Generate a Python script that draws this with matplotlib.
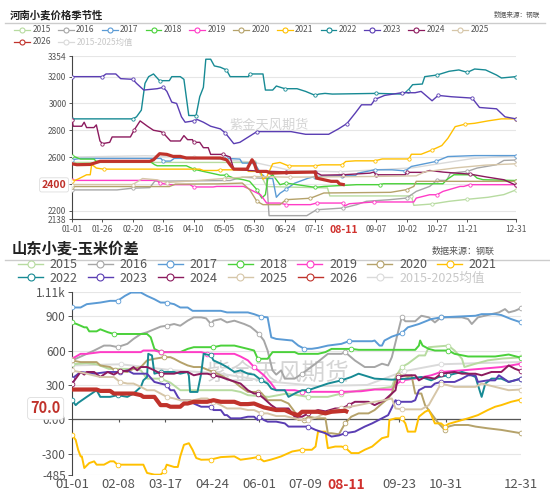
import matplotlib
matplotlib.use('Agg')
import matplotlib.pyplot as plt
from matplotlib.lines import Line2D
import numpy as np

plt.rcParams['font.family'] = ['Noto Sans CJK SC', 'DejaVu Sans']
plt.rcParams['axes.unicode_minus'] = False

names = ['2015', '2016', '2017', '2018', '2019', '2020', '2021', '2022',
         '2023', '2024', '2025', '2026', '2015-2025均值']
colors = ['#b7dba0', '#a6a6a6', '#5b9bd5', '#4ad13a', '#ff3cc7', '#b5a26a',
          '#ffc000', '#178a94', '#5a3db3', '#8c1a5e', '#d6c6a8', '#c0322b',
          '#dadada']

# ---------------- 河南小麦价格 (day of year, price) ----------------
t_d15 = [0, 150, 160, 210, 212, 279, 281, 296, 310, 325, 342, 355, 365]
t_v15 = [2560, 2560, 2380, 2370, 2310, 2310, 2240, 2250, 2270, 2285, 2300, 2320, 2355]
t_d16 = [0, 37, 50, 64, 68, 130, 140, 160, 162, 193, 201, 223, 234, 242, 261, 275, 283,
         294, 300, 308, 311, 325, 333, 349, 355, 365]
t_v16 = [2355, 2355, 2368, 2372, 2420, 2425, 2450, 2440, 2163, 2163, 2207, 2220, 2245,
         2270, 2282, 2294, 2344, 2381, 2426, 2426, 2480, 2493, 2518, 2543, 2575, 2578]
t_d17 = [0, 7, 73, 75, 81, 84, 127, 138, 140, 150, 155, 160, 165, 168, 171, 176, 183, 194,
         200, 222, 233, 235, 249, 263, 274, 279, 299, 309, 331, 365]
t_v17 = [2580, 2590, 2590, 2570, 2570, 2590, 2590, 2585, 2555, 2555, 2480, 2440, 2440,
         2300, 2330, 2360, 2405, 2442, 2455, 2462, 2462, 2480, 2505, 2505, 2497, 2530,
         2567, 2604, 2611, 2611]
t_d18 = [0, 7, 18, 20, 64, 68, 70, 94, 100, 108, 122, 127, 133, 141, 146, 152, 156, 159,
         161, 165, 171, 176, 200, 207, 234, 253, 256, 305, 308, 314, 330, 333, 338, 365]
t_v18 = [2610, 2585, 2585, 2568, 2568, 2543, 2535, 2535, 2510, 2493, 2465, 2465, 2443,
         2431, 2419, 2357, 2294, 2320, 2443, 2468, 2394, 2406, 2374, 2381, 2394, 2394,
         2401, 2401, 2431, 2468, 2468, 2443, 2431, 2425]
t_d19 = [0, 70, 72, 80, 97, 100, 116, 119, 141, 144, 155, 160, 171, 176, 196, 201, 223,
         224, 228, 248, 281, 283, 294, 300, 305, 319, 322, 327, 365]
t_v19 = [2426, 2426, 2406, 2394, 2394, 2377, 2377, 2381, 2381, 2369, 2319, 2257, 2257,
         2245, 2245, 2257, 2257, 2235, 2252, 2265, 2265, 2294, 2319, 2319, 2344, 2381,
         2381, 2394, 2394]
t_d20 = [0, 80, 85, 120, 140, 146, 152, 157, 171, 176, 196, 207, 262, 275, 281, 283, 365]
t_v20 = [2380, 2380, 2398, 2400, 2406, 2357, 2270, 2245, 2245, 2282, 2293, 2332, 2337,
         2357, 2381, 2419, 2419]
t_d21 = [0, 5, 12, 15, 16, 17, 20, 26, 105, 108, 119, 122, 144, 145, 155, 157, 160, 165,
         171, 178, 200, 205, 222, 225, 233, 249, 255, 277, 279, 287, 296, 304, 309, 315,
         323, 331, 342, 353, 365]
t_v21 = [2419, 2436, 2468, 2468, 2535, 2540, 2518, 2510, 2510, 2500, 2500, 2505, 2505,
         2493, 2493, 2436, 2450, 2550, 2560, 2534, 2534, 2542, 2542, 2567, 2572, 2572,
         2586, 2586, 2621, 2621, 2653, 2686, 2740, 2827, 2845, 2852, 2870, 2885, 2885]
t_d22 = [0, 50, 53, 57, 60, 63, 67, 72, 80, 82, 89, 92, 96, 102, 105, 108, 110, 114, 117,
         122, 127, 130, 145, 146, 157, 159, 165, 168, 175, 185, 192, 200, 203, 208, 214,
         250, 272, 276, 280, 288, 290, 300, 310, 318, 325, 331, 340, 349, 353, 365]
t_v22 = [2885, 2885, 2900, 2950, 3150, 3200, 3220, 3170, 3170, 3200, 3200, 3180, 2910,
         2910, 3050, 3120, 3330, 3330, 3280, 3270, 3250, 3200, 3200, 3220, 3220, 3100,
         3100, 3130, 3110, 3110, 3090, 3060, 3070, 3075, 3070, 3075, 3070, 3095, 3140,
         3145, 3200, 3212, 3240, 3250, 3232, 3257, 3250, 3212, 3190, 3200]
t_d23 = [0, 25, 28, 36, 40, 50, 53, 59, 70, 75, 78, 82, 86, 90, 93, 100, 103, 108, 114,
         122, 126, 133, 138, 145, 152, 180, 192, 211, 219, 226, 233, 238, 246, 249, 257,
         271, 282, 287, 296, 301, 312, 329, 335, 349, 356, 365]
t_v23 = [3200, 3200, 3220, 3220, 3185, 3180, 3150, 3100, 3110, 3120, 3090, 3010, 3000,
         2900, 2860, 2870, 2880, 2860, 2830, 2810, 2780, 2700, 2710, 2750, 2790, 2790,
         2770, 2770, 2810, 2850, 2930, 2990, 2990, 3030, 3060, 3080, 3080, 3090, 3020,
         3060, 3050, 3040, 2970, 2960, 2900, 2885]
t_d24 = [0, 1, 8, 10, 12, 18, 20, 23, 25, 31, 33, 48, 51, 56, 62, 67, 73, 75, 81, 89, 92,
         95, 99, 100, 105, 108, 112, 114, 124, 130, 133, 145, 155, 176, 200, 205, 223,
         245, 248, 250, 274, 275, 289, 294, 305, 316, 327, 341, 355, 365]
t_v24 = [2880, 2830, 2830, 2860, 2820, 2820, 2840, 2720, 2700, 2710, 2750, 2750, 2800,
         2870, 2830, 2800, 2790, 2780, 2720, 2720, 2760, 2730, 2730, 2710, 2710, 2670,
         2670, 2620, 2620, 2600, 2510, 2500, 2495, 2490, 2488, 2465, 2468, 2480, 2488,
         2468, 2468, 2486, 2486, 2500, 2488, 2480, 2473, 2451, 2431, 2390]
t_d25 = [0, 50, 58, 70, 78, 95, 125, 150, 179, 245, 283, 290, 316, 340, 365]
t_v25 = [2395, 2395, 2440, 2430, 2410, 2420, 2440, 2455, 2450, 2455, 2460, 2490, 2520,
         2540, 2550]
t_d26 = [0, 4, 15, 23, 64, 67, 72, 78, 83, 89, 94, 122, 127, 130, 133, 144, 145, 148, 150,
         152, 160, 163, 179, 200, 201, 207, 213, 218, 220, 223]
t_v26 = [2550, 2543, 2545, 2568, 2568, 2580, 2625, 2620, 2605, 2605, 2593, 2593, 2580,
         2543, 2510, 2510, 2530, 2580, 2550, 2493, 2493, 2480, 2485, 2488, 2443, 2431,
         2419, 2419, 2400, 2395]
t_davg = [0, 60, 100, 150, 180, 220, 280, 330, 365]
t_vavg = [2600, 2610, 2600, 2560, 2500, 2490, 2520, 2590, 2610]

# ---------------- 山东小麦-玉米价差 ----------------
b_d15 = [0, 12, 20, 30, 50, 56, 61, 72, 80, 88, 130, 137, 143, 160, 175, 192, 208, 219,
         235, 250, 260, 263, 268, 273, 282, 287, 290, 306, 311, 317, 319, 328, 338, 350, 365]
b_v15 = [480, 490, 480, 440, 440, 427, 355, 355, 320, 254, 254, 239, 211, 196, 225, 196,
         196, 225, 254, 268, 283, 369, 456, 485, 557, 557, 629, 643, 600, 528, 456, 485,
         514, 530, 540]
b_d16 = [0, 18, 26, 31, 37, 45, 50, 56, 61, 72, 77, 83, 88, 94, 99, 105, 109, 113, 115,
         121, 126, 132, 140, 145, 149, 152, 156, 159, 163, 166, 170, 173, 181, 187, 198,
         208, 219, 222, 230, 238, 246, 252, 257, 260, 268, 271, 279, 284, 290, 295, 300,
         317, 322, 325, 330, 341, 347, 352, 355, 360, 365]
b_v16 = [513, 600, 643, 643, 630, 658, 701, 744, 759, 808, 816, 831, 816, 860, 889, 889,
         880, 831, 860, 874, 845, 860, 831, 808, 773, 744, 687, 600, 427, 390, 427, 355,
         355, 398, 485, 571, 571, 586, 513, 456, 456, 485, 470, 542, 889, 855, 855, 903,
         889, 845, 889, 889, 874, 831, 889, 917, 932, 961, 932, 946, 969]
b_d17 = [0, 7, 12, 23, 31, 37, 39, 43, 48, 56, 61, 67, 72, 77, 83, 88, 94, 98, 121, 126,
         143, 148, 154, 159, 162, 166, 179, 184, 189, 195, 200, 208, 219, 225, 244, 246,
         250, 252, 254, 260, 268, 273, 282, 292, 300, 328, 333, 344, 349, 357, 365]
b_v17 = [975, 975, 1004, 1018, 1033, 1033, 1047, 1076, 1105, 1105, 1076, 1047, 1018, 1018,
         1004, 975, 975, 946, 946, 932, 932, 917, 894, 889, 715, 701, 687, 643, 615, 615,
         623, 643, 658, 681, 681, 687, 643, 643, 687, 721, 750, 802, 831, 874, 889, 903,
         917, 917, 909, 874, 845]
b_d18 = [0, 4, 10, 12, 14, 20, 23, 29, 34, 61, 64, 67, 72, 88, 94, 99, 115, 121, 132, 143,
         148, 151, 154, 159, 163, 181, 184, 200, 206, 211, 227, 233, 279, 282, 283, 285,
         290, 295, 306, 311, 322, 344, 355, 365]
b_v18 = [845, 830, 802, 802, 767, 767, 785, 760, 744, 744, 715, 614, 586, 586, 614, 629,
         629, 643, 643, 614, 600, 528, 528, 528, 586, 586, 571, 571, 586, 614, 614, 606,
         606, 643, 687, 643, 614, 600, 600, 571, 548, 548, 565, 537]
b_d19 = [0, 7, 12, 23, 56, 58, 67, 72, 105, 110, 132, 137, 143, 148, 156, 162, 166, 181,
         187, 219, 235, 246, 260, 263, 268, 279, 292, 300, 317, 333, 349, 365]
b_v19 = [528, 571, 571, 586, 586, 600, 600, 586, 586, 571, 571, 548, 514, 456, 384, 312,
         254, 254, 240, 240, 245, 260, 260, 300, 340, 355, 384, 413, 427, 441, 456, 485]
b_d20 = [0, 7, 20, 23, 31, 35, 45, 50, 56, 61, 67, 75, 80, 83, 88, 94, 99, 105, 110, 115,
         121, 126, 132, 137, 143, 151, 154, 159, 170, 176, 181, 184, 189, 192, 200, 206,
         208, 211, 217, 222, 227, 233, 241, 246, 252, 257, 260, 263, 265, 268, 273, 276,
         279, 284, 287, 292, 298, 303, 306, 311, 322, 328, 338, 349, 365]
b_v20 = [513, 499, 499, 470, 456, 427, 413, 441, 456, 514, 528, 542, 542, 528, 499, 470,
         456, 456, 433, 413, 384, 355, 326, 283, 239, 239, 230, 167, 167, 138, 66, -6, -6,
         23, 9, 9, -121, -121, -130, -35, 23, 52, 52, 81, 138, 182, 225, 340, 384, 384,
         370, 384, 225, 225, 124, 52, -35, -92, -63, -49, -49, -63, -78, -92, -121]
b_d21 = [0, 3, 5, 7, 8, 10, 14, 18, 20, 26, 31, 34, 37, 58, 61, 67, 72, 75, 77, 83, 86, 88,
         91, 95, 98, 101, 105, 113, 121, 132, 137, 145, 151, 156, 162, 166, 170, 179, 187,
         195, 198, 200, 206, 208, 214, 219, 222, 227, 233, 238, 244, 252, 257, 258, 263,
         268, 271, 273, 279, 282, 287, 290, 292, 295, 300, 303, 306, 317, 322, 330, 338,
         344, 349, 357, 365]
b_v21 = [-135, -179, -265, -323, -323, -424, -381, -366, -395, -395, -366, -366, -395,
         -395, -467, -482, -482, -453, -395, -415, -415, -323, -222, -208, -265, -337,
         -352, -350, -329, -323, -352, -340, -329, -366, -350, -337, -323, -280, -265,
         -265, -237, -107, -107, -251, -237, -237, -245, -294, -294, -265, -237, -164,
         -150, -6, 9, 9, -35, -107, -107, 23, 66, 81, 40, -35, -35, -63, -40, -6, 9, 37,
         81, 110, 124, 153, 173]
b_d22 = [0, 3, 5, 12, 16, 20, 23, 31, 37, 45, 50, 56, 58, 61, 62, 65, 67, 72, 83, 88, 94,
         95, 96, 102, 105, 107, 113, 115, 121, 126, 132, 137, 143, 148, 154, 159, 162, 166,
         173, 176, 181, 187, 192, 200, 208, 219, 227, 233, 246, 260, 273, 284, 292, 298,
         306, 311, 317, 322, 328, 333, 336, 341, 349, 355, 365]
b_v22 = [167, 124, 144, 196, 225, 254, 196, 196, 211, 196, 225, 283, 340, 369, 571, 557,
         398, 413, 413, 398, 413, 380, 239, 239, 398, 571, 557, 514, 485, 456, 413, 427,
         398, 390, 340, 312, 268, 254, 254, 196, 225, 254, 254, 283, 312, 340, 369, 398,
         355, 346, 355, 369, 340, 369, 384, 398, 413, 398, 369, 196, 312, 355, 355, 326, 355]
b_d23 = [0, 7, 18, 29, 39, 45, 50, 61, 67, 72, 77, 80, 83, 86, 88, 96, 99, 105, 113, 115,
         121, 124, 126, 129, 137, 143, 148, 151, 152, 156, 159, 166, 173, 176, 192, 198,
         206, 211, 217, 222, 230, 238, 244, 252, 257, 263, 265, 276, 279, 282, 287, 292,
         295, 300, 311, 317, 322, 328, 330, 338, 344, 347, 355, 360, 365]
b_v23 = [355, 413, 398, 413, 413, 427, 398, 398, 326, 312, 300, 254, 254, 196, 167, 167,
         138, 110, 110, 81, 81, 37, 37, 9, 9, 23, 23, -6, 23, -6, -20, -20, -35, -63, -63,
         -92, -121, -150, -140, -121, -107, -63, -35, 9, 37, 167, 153, 153, 167, 254, 283,
         283, 312, 326, 326, 355, 384, 384, 326, 340, 340, 384, 326, 340, 355]
b_d24 = [0, 4, 7, 10, 12, 18, 23, 29, 34, 39, 45, 50, 53, 56, 61, 67, 72, 83, 88, 94, 99,
         105, 110, 115, 121, 129, 137, 143, 148, 151, 156, 162, 166, 176, 181, 187, 192,
         200, 206, 214, 219, 225, 230, 241, 246, 254, 263, 265, 271, 279, 282, 287, 295,
         300, 311, 317, 328, 333, 341, 349, 355, 360, 365]
b_v24 = [312, 369, 413, 390, 413, 413, 369, 413, 390, 421, 421, 456, 427, 456, 456, 427,
         398, 398, 413, 413, 384, 398, 398, 384, 369, 340, 312, 254, 225, 225, 182, 124, 95,
         95, 23, 23, 52, 81, 70, 95, 95, 124, 153, 153, 124, 167, 254, 369, 384, 384, 340,
         369, 355, 398, 413, 398, 398, 384, 413, 413, 470, 441, 421]
b_d25 = [0, 12, 23, 34, 39, 45, 50, 56, 61, 67, 72, 77, 83, 88, 99, 105, 110, 115, 121,
         126, 137, 143, 148, 154, 159, 166, 173, 181, 187, 192, 200, 208, 219, 233, 246,
         254, 260, 263, 268, 284, 290, 300, 311, 328, 333, 344, 355, 365]
b_v25 = [427, 398, 369, 369, 326, 312, 312, 283, 254, 254, 225, 196, 182, 167, 167, 182,
         182, 153, 124, 95, 95, 81, 81, 52, 52, 29, 29, 9, -6, -6, 23, 66, 95, 124, 153,
         167, 182, 95, 87, 87, 124, 312, 283, 283, 312, 283, 254, 260]
b_d26 = [0, 20, 23, 31, 34, 50, 56, 58, 67, 69, 72, 77, 80, 88, 91, 94, 99, 110, 115, 121,
         132, 137, 143, 148, 156, 166, 173, 179, 184, 187, 200, 206, 211, 222, 223]
b_v26 = [260, 260, 248, 248, 225, 225, 211, 196, 196, 167, 124, 124, 110, 110, 138, 138,
         153, 153, 167, 153, 153, 133, 133, 138, 104, 81, 81, 52, 37, 66, 66, 52, 66, 75, 70]
b_davg = [0, 40, 80, 120, 160, 200, 240, 270, 300, 330, 365]
b_vavg = [470, 480, 430, 400, 330, 290, 300, 420, 480, 490, 500]

top_series = [(t_d15, t_v15), (t_d16, t_v16), (t_d17, t_v17), (t_d18, t_v18),
              (t_d19, t_v19), (t_d20, t_v20), (t_d21, t_v21), (t_d22, t_v22),
              (t_d23, t_v23), (t_d24, t_v24), (t_d25, t_v25), (t_d26, t_v26),
              (t_davg, t_vavg)]
bot_series = [(b_d15, b_v15), (b_d16, b_v16), (b_d17, b_v17), (b_d18, b_v18),
              (b_d19, b_v19), (b_d20, b_v20), (b_d21, b_v21), (b_d22, b_v22),
              (b_d23, b_v23), (b_d24, b_v24), (b_d25, b_v25), (b_d26, b_v26),
              (b_davg, b_vavg)]

t_xt = [0, 25, 50, 75, 100, 125, 150, 175, 200, 223, 250, 275, 300, 325, 365]
t_xl = ['01-01', '01-26', '02-20', '03-16', '04-10', '05-05', '05-30', '06-24',
        '07-19', '08-11', '09-07', '10-02', '10-27', '11-21', '12-31']
t_yt = [2138, 2200, 2400, 2600, 2800, 3000, 3200, 3354]
b_xt = [0, 38, 76, 114, 152, 190, 223, 266, 304, 365]
b_xl = ['01-01', '02-08', '03-17', '04-24', '06-01', '07-09', '08-11', '09-23',
        '10-31', '12-31']
b_yt = [-485, -300, 0, 300, 600, 900, 1110]
b_yl = ['-485', '-300', '0.00', '300', '600', '900', '1.11k']

W, H = 550, 494
fig = plt.figure(figsize=(W / 100, H / 100), dpi=100)
ax1 = fig.add_axes([72 / W, 1 - 219 / H, 444 / W, 163 / H])
ax2 = fig.add_axes([72 / W, 1 - 475 / H, 449 / W, 183 / H])


def near_idx(days, marks):
    days = np.asarray(days)
    out = []
    for m in marks:
        k = int(np.argmin(np.abs(days - m)))
        if abs(days[k] - m) <= 4:
            out.append(k)
    return sorted(set(out))


def draw(ax, series, marks, lw, lw_hi, ms):
    order = [12] + list(range(11)) + [11]
    for i in order:
        d, v = series[i]
        if i == 11:
            ax.plot(d, v, color=colors[i], lw=lw_hi, zorder=5, solid_joinstyle='round')
        else:
            ax.plot(d, v, color=colors[i], lw=lw, zorder=3 if i < 12 else 2,
                    marker='o', ms=ms, mfc='white', mew=0.6,
                    markevery=near_idx(d, marks))


draw(ax1, top_series, t_xt, 1.0, 2.3, 2.4)
draw(ax2, bot_series, b_xt, 1.4, 3.0, 3.4)

# ---- top axes styling
ax1.set_xlim(0, 365)
ax1.set_ylim(2138, 3354)
for t in t_yt:
    ax1.axhline(t, color='#e6e6e6', lw=0.8, zorder=0)
ax1.set_yticks(t_yt, labels=[str(t) for t in t_yt])
ax1.set_xticks(t_xt, labels=t_xl)
ax1.tick_params(labelsize=6, colors='#555555', length=2.5, width=0.7, pad=1.5)
for s in ['top', 'right']:
    ax1.spines[s].set_visible(False)
for s in ['left', 'bottom']:
    ax1.spines[s].set_color('#444444')
    ax1.spines[s].set_linewidth(0.8)
for lab in ax1.get_yticklabels():
    if lab.get_text() == '2400':
        lab.set_color('#c0322b')
        lab.set_fontweight('bold')
        lab.set_fontsize(7.5)
        lab.set_bbox(dict(boxstyle='round,pad=0.2', fc='white', ec='#dddddd', lw=0.6))
for lab in ax1.get_xticklabels():
    if lab.get_text() == '08-11':
        lab.set_color('#d0312d')
        lab.set_fontweight('bold')
        lab.set_fontsize(7.5)
        lab.set_bbox(dict(boxstyle='square,pad=0.6', fc='white', ec='none'))
ax1.text(269 / W, 1 - 125 / H, '紫金天风期货', transform=fig.transFigure, fontsize=9.5,
         color='#d4d4d4', ha='center', va='center', zorder=1)

# ---- bottom axes styling
ax2.set_xlim(0, 365)
ax2.set_ylim(-485, 1110)
for t in b_yt:
    ax2.axhline(t, color='#e6e6e6', lw=0.8, zorder=0)
ax2.axhline(0, color='#555555', lw=0.9, zorder=1)
ax2.vlines(b_xt, -22, 0, color='#555555', lw=0.8, zorder=1)
ax2.set_yticks(b_yt, labels=b_yl)
ax2.set_xticks(b_xt, labels=b_xl)
ax2.tick_params(axis='y', labelsize=8.5, colors='#555555', length=3, width=0.7, pad=1.5)
ax2.tick_params(axis='x', labelsize=9.5, colors='#555555', length=0, pad=2)
for s in ['top', 'right', 'bottom']:
    ax2.spines[s].set_visible(False)
ax2.spines['left'].set_color('#444444')
ax2.spines['left'].set_linewidth(0.8)
for lab in ax2.get_xticklabels():
    if lab.get_text() == '08-11':
        lab.set_color('#d0312d')
        lab.set_fontweight('bold')
        lab.set_fontsize(10)
        lab.set_bbox(dict(boxstyle='square,pad=0.1', fc='white', ec='none'))
ax2.text(-0.025, 95, '70.0', transform=ax2.get_yaxis_transform(), ha='right',
         va='center', fontsize=10.5, fontweight='bold', color='#c0322b',
         bbox=dict(boxstyle='round,pad=0.2', fc='white', ec='#dddddd', lw=0.6),
         clip_on=False, zorder=10)
ax2.text(278 / W, 1 - 373 / H, '紫金天风期货', transform=fig.transFigure, fontsize=17,
         color='#d4d4d4', ha='center', va='center', zorder=1)

# ---- titles, source notes, separators
fig.text(10 / W, 1 - 15 / H, '河南小麦价格季节性', fontsize=7.5, fontweight='bold',
         va='center', color='#222222')
fig.text(540 / W, 1 - 15 / H, '数据来源：钢联', fontsize=4.8, va='center', ha='right',
         color='#555555', style='italic')
fig.add_artist(Line2D([5 / W, 545 / W], [1 - 23 / H, 1 - 23 / H], color='#cccccc', lw=1,
                      transform=fig.transFigure))
fig.text(12 / W, 1 - 249 / H, '山东小麦-玉米价差', fontsize=11, fontweight='bold',
         va='center', color='#222222')
fig.text(432 / W, 1 - 251 / H, '数据来源：钢联', fontsize=6.5, va='center', ha='left',
         color='#555555', style='italic')
fig.add_artist(Line2D([5 / W, 550 / W], [1 - 260 / H, 1 - 260 / H], color='#cccccc', lw=1,
                      transform=fig.transFigure))


def handle(i, lw, ms):
    return Line2D([], [], color=colors[i], lw=lw, marker='o', ms=ms, mfc='white', mew=0.8)


def legend_row(idx, x, y, fs, hl, htp, cs, lw, ms):
    leg = fig.legend([handle(i, lw, ms) for i in idx], [names[i] for i in idx],
                     loc='center left', bbox_to_anchor=(x / W, 1 - y / H), ncol=len(idx),
                     frameon=False, fontsize=fs, handlelength=hl, handletextpad=htp,
                     columnspacing=cs, borderpad=0, borderaxespad=0)
    for i, txt in zip(idx, leg.get_texts()):
        txt.set_color('#c8c8c8' if i == 12 else '#555555')


legend_row(list(range(11)), 14, 30, 6, 1.9, 0.3, 0.85, 0.9, 3.6)
legend_row([11, 12], 14, 42, 6, 1.9, 0.3, 0.85, 0.9, 3.6)
legend_row(list(range(7)), 18, 265, 9, 2.0, 0.55, 0.8, 1.0, 5)
legend_row([7, 8, 9, 10, 11, 12], 18, 278, 9, 2.0, 0.55, 0.8, 1.0, 5)

fig.savefig('out.png', dpi=100)
